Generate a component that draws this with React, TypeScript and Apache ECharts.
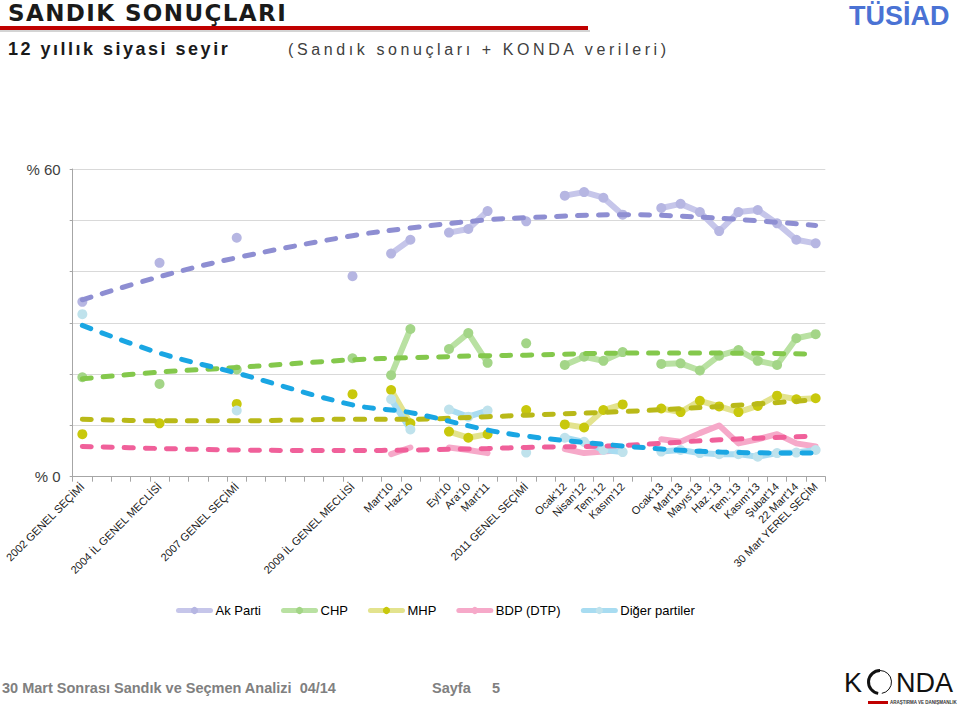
import React, { useEffect, useRef } from "react";
import * as echarts from "echarts";

const categories: string[] = [
  "2002 GENEL SEÇİMİ", "", "", "",
  "2004 İL GENEL MECLİSİ", "", "", "",
  "2007 GENEL SEÇİMİ", "", "", "", "", "",
  "2009 İL GENEL MECLİSİ", "",
  "Mart'10", "Haz'10", "",
  "Eyl'10", "Ara'10", "Mart'11", "",
  "2011 GENEL SEÇİMİ", "",
  "Ocak'12", "Nisan'12", "Tem.'12", "Kasım'12", "",
  "Ocak'13", "Mart'13", "Mayıs'13", "Haz.'13", "Tem.'13", "Kasım'13",
  "Şubat'14", "22 Mart'14", "30 Mart YEREL SEÇİM",
];

const N = null;
// index:            0     1  2  3  4     5  6  7  8     9 10 11 12 13 14    15 16    17    18 19    20    21    22 23    24 25    26    27    28    29 30    31    32    33    34    35    36    37    38
const akParti = [34.1, N, N, N, 41.7, N, N, N, 46.6, N, N, N, N, N, 39.1, N, 43.5, 46.2, N, 47.6, 48.3, 51.8, N, 49.8, N, 54.8, 55.5, 54.4, 51.1, N, 52.4, 53.2, 51.6, 47.9, 51.6, 52.0, 49.4, 46.2, 45.5];
const chp =     [19.4, N, N, N, 18.1, N, N, N, 20.9, N, N, N, N, N, 23.1, N, 19.8, 28.8, N, 24.9, 28.0, 22.2, N, 26.0, N, 21.8, 23.4, 22.6, 24.3, N, 22.0, 22.1, 20.7, 23.6, 24.7, 22.6, 21.8, 27.0, 27.8];
const mhp =     [8.3,  N, N, N, 10.4, N, N, N, 14.2, N, N, N, N, N, 16.1, N, 16.9, 10.4, N, 8.8,  7.6,  8.3,  N, 13.0, N, 10.2, 9.6,  13.0, 14.1, N, 13.3, 12.6, 14.8, 13.7, 12.6, 13.8, 15.8, 15.1, 15.3];
const bdp =     [N,    N, N, N, N,    N, N, N, N,    N, N, N, N, N, N,    N, 4.4,  5.7,  N, 5.7,  5.2,  4.6,  N, N,    N, 5.4,  4.6,  4.9,  5.2,  N, 7.3,  6.8,  8.5,  10.0, 6.5,  7.3,  8.3,  6.5,  5.9];
const diger =   [31.7, N, N, N, N,    N, N, N, 12.9, N, N, N, N, N, N,    N, 15.1, 9.2,  N, 13.1, 11.7, 12.9, N, 4.7,  N, 7.6,  6.8,  5.2,  4.8,  N, 4.9,  5.2,  4.6,  4.4,  4.4,  3.9,  4.6,  4.7,  5.2];

// trend lines, read at selected categories
const akTrend =    [34.5, N, N, N, 39.0, N, N, N, 42.7, N, N, N, N, N, 47.0, N, N, 48.5, N, N, N, 50.1, N, 50.5, N, N, N, N, 51.1, N, N, N, N, 50.4, N, N, N, N, 49.0];
const chpTrend =   [19.1, N, N, N, 20.4, N, N, N, 21.3, N, N, N, N, N, 22.8, N, N, 23.2, N, N, N, 23.6, N, 23.7, N, N, N, N, 24.1, N, N, N, N, 24.1, N, N, N, N, 23.9];
const mhpTrend =   [11.2, N, N, N, 10.9, N, N, N, 10.9, N, N, N, N, N, 11.2, N, N, 11.2, N, N, N, 11.7, N, 12.0, N, N, N, N, 12.7, N, N, N, N, 13.7, N, N, N, N, 15.0];
const bdpTrend =   [5.9,  N, N, N, 5.5,  N, N, N, 5.2,  N, N, N, N, N, 5.1,  N, N, 5.2,  N, N, N, 5.5,  N, 5.7,  N, N, N, N, 6.1,  N, N, N, N, 7.2,  N, N, N, N, 7.9];
const digerTrend = [29.5, N, N, N, 24.1, N, N, N, 20.2, N, N, N, N, N, 14.0, N, N, 12.5, N, N, N, 9.1,  N, 7.9,  N, N, N, N, 6.0,  N, N, N, N, 4.8,  N, N, N, N, 4.6];

const yLabels: Record<number, string> = { 60: "% 60", 0: "% 0" };

const dataSeries = (name: string, data: (number | null)[], line: string, marker: string, withSymbol = true) => ({
  name,
  type: "line",
  data,
  connectNulls: false,
  showAllSymbol: true,
  symbol: withSymbol ? "circle" : "none",
  symbolSize: 10,
  lineStyle: { color: line, width: 6, cap: "round", join: "round" },
  itemStyle: { color: marker, borderWidth: 0 },
  emphasis: { disabled: true },
  silent: true,
  z: 2,
});

const trendSeries = (name: string, data: (number | null)[], color: string) => ({
  name,
  type: "line",
  data,
  connectNulls: true,
  smooth: 0.35,
  symbol: "none",
  lineStyle: { color, width: 5, type: [9, 12], cap: "round" },
  emphasis: { disabled: true },
  silent: true,
  z: 3,
});

export default function App() {
  const ref = useRef<HTMLDivElement>(null);
  useEffect(() => {
    if (!ref.current) return;
    const chart = echarts.init(ref.current, undefined, { renderer: "svg" });
    chart.setOption({
      animation: false,
      backgroundColor: "#ffffff",
      grid: { left: 72.7, right: 133.7, top: 169, bottom: 233.3, outerBoundsMode: "none", containLabel: false },
      xAxis: {
        type: "category",
        data: categories,
        boundaryGap: true,
        axisLine: { lineStyle: { color: "#a6a6a6", width: 1 } },
        axisTick: { show: true, interval: 0, length: 5, lineStyle: { color: "#a6a6a6" } },
        axisLabel: {
          interval: 0,
          rotate: 45,
          margin: 8,
          fontSize: 11,
          fontFamily: "Liberation Sans, Arial, sans-serif",
          color: "#1a1a1a",
        },
        splitLine: { show: false },
      },
      yAxis: {
        type: "value",
        min: 0,
        max: 60,
        interval: 10,
        axisLine: { show: true, lineStyle: { color: "#a6a6a6" } },
        axisTick: { show: true, length: 3, lineStyle: { color: "#a6a6a6" } },
        splitLine: { lineStyle: { color: "#d9d9d9", width: 1 } },
        axisLabel: {
          formatter: (v: number) => yLabels[v] ?? "",
          fontSize: 15,
          fontFamily: "Liberation Sans, Arial, sans-serif",
          color: "#404040",
          margin: 12,
        },
      },
      legend: {
        data: ["Ak Parti", "CHP", "MHP", "BDP (DTP)", "Diğer partiler"],
        left: 171,
        top: 599,
        itemWidth: 32,
        itemHeight: 9,
        itemGap: 20,
        selectedMode: false,
        lineStyle: { width: 5 },
        textStyle: { fontSize: 13, fontFamily: "Liberation Sans, Arial, sans-serif", color: "#000" },
      },
      series: [
        dataSeries("Ak Parti", akParti, "#c6c6ea", "#b6b6e2"),
        dataSeries("CHP", chp, "#b9e1a2", "#a3d587"),
        dataSeries("MHP", mhp, "#e3e38e", "#c8c80c"),
        dataSeries("BDP (DTP)", bdp, "#f6a9c9", "#f6a9c9", false),
        dataSeries("Diğer partiler", diger, "#a8dcf1", "#bfe2ec"),
        trendSeries("Ak Parti trend", akTrend, "#8e8ed2"),
        trendSeries("CHP trend", chpTrend, "#84c84c"),
        trendSeries("MHP trend", mhpTrend, "#b9b918"),
        trendSeries("BDP trend", bdpTrend, "#f0609a"),
        trendSeries("Diğer trend", digerTrend, "#1aa6e3"),
      ],
      graphic: [
        {
          type: "text", x: 8, y: 1,
          style: { text: "SANDIK SONUÇLARI", fontSize: 23, fontWeight: "bold", fontFamily: "DejaVu Sans, SpacedC", fill: "#1a1a1a", verticalAlign: "top", textVerticalAlign: "top" },
        },
        { type: "rect", shape: { x: 0, y: 30, width: 590, height: 2 }, style: { fill: "#d4d4d4" } },
        { type: "rect", shape: { x: 0, y: 26, width: 588, height: 4 }, style: { fill: "#c00000" } },
        {
          type: "text", x: 8, y: 40,
          style: { text: "12 yıllık siyasi seyir", fontSize: 18, fontWeight: "bold", fontFamily: "Liberation Sans, SpacedA", fill: "#1a1a1a", verticalAlign: "top", textVerticalAlign: "top" },
        },
        {
          type: "text", x: 288, y: 41,
          style: { text: "(Sandık sonuçları + KONDA verileri)", fontSize: 16, fontFamily: "Liberation Sans, SpacedB", fill: "#404040", verticalAlign: "top", textVerticalAlign: "top" },
        },
        {
          type: "text", x: 849, y: 16,
          style: { text: "TÜSİAD", fontSize: 27, fontWeight: "bold", fontFamily: "Liberation Sans, Arial, sans-serif", fill: "#4a72d4", verticalAlign: "middle", textVerticalAlign: "middle" },
        },
        {
          type: "text", x: 2, y: 688,
          style: { text: "30 Mart Sonrası Sandık ve Seçmen Analizi  04/14", fontSize: 14.5, fontWeight: "bold", fontFamily: "Liberation Sans Narrow, Liberation Sans, sans-serif", fill: "#808080", verticalAlign: "middle", textVerticalAlign: "middle" },
        },
        {
          type: "text", x: 432, y: 688,
          style: { text: "Sayfa", fontSize: 14.5, fontWeight: "bold", fontFamily: "Liberation Sans Narrow, Liberation Sans, sans-serif", fill: "#808080", verticalAlign: "middle", textVerticalAlign: "middle" },
        },
        {
          type: "text", x: 492, y: 688,
          style: { text: "5", fontSize: 14.5, fontWeight: "bold", fontFamily: "Liberation Sans Narrow, Liberation Sans, sans-serif", fill: "#808080", verticalAlign: "middle", textVerticalAlign: "middle" },
        },
        {
          type: "text", x: 844, y: 683,
          style: { text: "K", fontSize: 27, fontFamily: "Liberation Sans, Arial, sans-serif", fill: "#111", verticalAlign: "middle", textVerticalAlign: "middle" },
        },
        {
          type: "arc", shape: { cx: 880, cy: 682, r: 11.5, startAngle: Math.PI * 0.55, endAngle: Math.PI * 1.5, clockwise: true },
          style: { stroke: "#111", lineWidth: 3, fill: "none" },
        },
        {
          type: "arc", shape: { cx: 880, cy: 682, r: 11.5, startAngle: -Math.PI * 0.5, endAngle: Math.PI * 0.45, clockwise: true },
          style: { stroke: "#111", lineWidth: 1, fill: "none" },
        },
        {
          type: "text", x: 896, y: 683,
          style: { text: "NDA", fontSize: 27, fontFamily: "Liberation Sans, Arial, sans-serif", fill: "#111", verticalAlign: "middle", textVerticalAlign: "middle" },
        },
        { type: "rect", shape: { x: 868, y: 701, width: 20, height: 3 }, style: { fill: "#c00000" } },
        {
          type: "text", x: 890, y: 702.5,
          style: { text: "ARAŞTIRMA VE DANIŞMANLIK", fontSize: 4.5, fontWeight: "bold", fontFamily: "Liberation Sans Narrow, Liberation Sans, sans-serif", fill: "#333", verticalAlign: "middle", textVerticalAlign: "middle" },
        },
      ],
    });
    return () => chart.dispose();
  }, []);

  return (
    <div style={{ position: "absolute", left: 0, top: 0, width: 959, height: 710, background: "#fff" }}>
      <style>{`
        text[style*="SpacedA"] { letter-spacing: 2.5px; }
        text[style*="SpacedB"] { letter-spacing: 3.6px; }
        text[style*="SpacedC"] { letter-spacing: 1.4px; }
      `}</style>
      <div ref={ref} style={{ width: 959, height: 710 }} />
    </div>
  );
}
